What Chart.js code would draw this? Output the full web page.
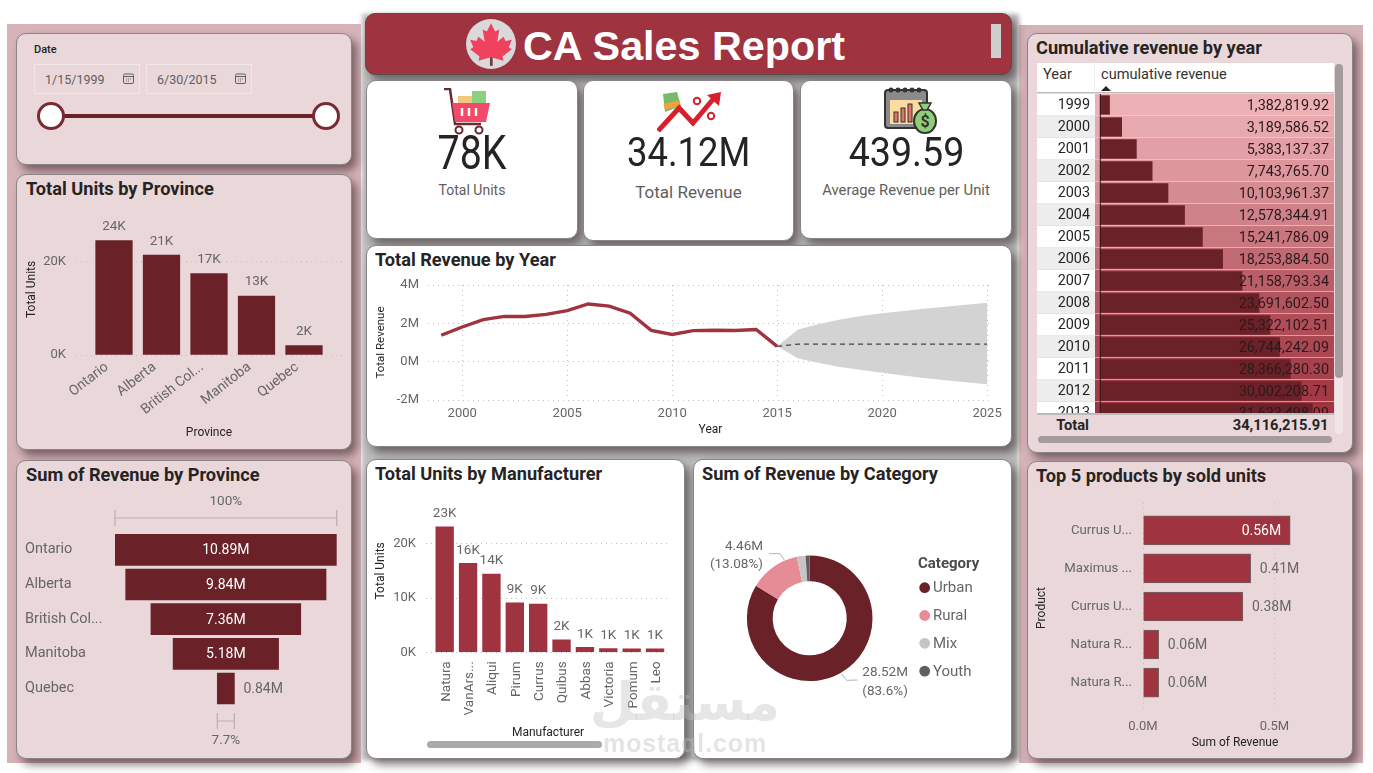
<!DOCTYPE html>
<html>
<head>
<meta charset="utf-8">
<title>CA Sales Report</title>
<script src="https://cdn.jsdelivr.net/npm/chart.js@4"></script>
<style>
  html, body { margin: 0; padding: 0; background: #fff; }
  body { width: 1373px; height: 773px; position: relative; overflow: hidden; font-family: Roboto, sans-serif; color: #252423; }
  .abs, .card, canvas { position: absolute; }
  .back { position: absolute; background: #d6b3b8; }
  .card { box-sizing: border-box; border: 1px solid #8a8486; border-radius: 10px; box-shadow: 5px 6px 8px rgba(30, 15, 18, .5); }
  .pink { background: #ead7da; }
  .white { background: #fff; }
  .ttl { position: absolute; font-weight: 700; font-size: 18.2px; white-space: nowrap; color: #252423; }
  .kpi { position: absolute; left: 0; right: 0; text-align: center; white-space: nowrap; }
  .kpi.num { color: #252423; line-height: 1; }
  .kpi.num span { display: inline-block; }
  .kpi.cap { color: #605e5e; }
  .date { position: absolute; top: 30px; height: 30px; box-sizing: border-box; border: 1px solid #f2e6e8; font-size: 12.5px; color: #605e5e; line-height: 29px; padding-left: 10px; }
  .knob { position: absolute; top: 68px; width: 22px; height: 22px; border-radius: 50%; background: #fff; border: 3px solid #7a2a33; }
  .bar-h { position: absolute; background: #a59b9d; border-radius: 4px; }
</style>
</head>
<body>

<div class="abs" style="left:362px;top:14px;width:657px;height:746px;background:#bcbcbc;filter:blur(2px)"></div>
<div class="back" style="left:7px;top:24px;width:354px;height:739px"></div>
<div class="back" style="left:1019px;top:25px;width:344px;height:738px"></div>

<!-- date slicer -->
<div class="card pink" style="left:16px;top:33px;width:336px;height:132px">
  <div class="abs" style="left:17px;top:9px;font-size:11px;font-weight:500">Date</div>
  <div class="date" style="left:17px;width:106px">1/15/1999
    <svg class="abs" style="left:88px;top:8px" width="11" height="11" viewBox="0 0 11 11"><rect x=".5" y="1" width="10" height="9.5" rx="1.5" fill="none" stroke="#605e5e"/><path d="M1 3.5h9M3 6h1M5 6h1M7 6h1M3 8h1M5 8h1" stroke="#605e5e"/></svg>
  </div>
  <div class="date" style="left:129px;width:106px">6/30/2015
    <svg class="abs" style="left:88px;top:8px" width="11" height="11" viewBox="0 0 11 11"><rect x=".5" y="1" width="10" height="9.5" rx="1.5" fill="none" stroke="#605e5e"/><path d="M1 3.5h9M3 6h1M5 6h1M7 6h1M3 8h1M5 8h1" stroke="#605e5e"/></svg>
  </div>
  <div class="abs" style="left:34px;top:80px;width:275px;height:4px;background:#6a2228"></div>
  <div class="knob" style="left:20px"></div>
  <div class="knob" style="left:295px"></div>
</div>

<div class="card pink" style="left:16px;top:174px;width:336px;height:276px">
  <div class="ttl" style="left:9px;top:3px">Total Units by Province</div>
  <canvas id="provinceUnits" width="335" height="275" style="left:-1px;top:-1px"></canvas>
</div>

<div class="card pink" style="left:16px;top:460px;width:336px;height:299px">
  <div class="ttl" style="left:9px;top:3px">Sum of Revenue by Province</div>
  <canvas id="provinceFunnel" width="335" height="298" style="left:-1px;top:-1px"></canvas>
</div>

<!-- header -->
<div class="card" style="left:365px;top:13px;width:647px;height:62px;background:#9f3340;border-color:#5d4a4d">
  <svg class="abs" style="left:100px;top:5px" width="50" height="50" viewBox="0 0 48 48">
    <circle cx="24" cy="24" r="24" fill="#d9d9d9"/>
    <rect x="23" y="30" width="2.6" height="15" fill="#7a3b3f"/>
    <polygon fill="#f0415f" points="24,4 28,12 32,10 30,22 36,17 38,21 44,20 41,27 44,29 35,36 36,40 25,37 23,37 12,40 13,36 4,29 7,27 4,20 10,21 12,17 18,22 16,10 20,12"/>
  </svg>
  <div class="abs" style="left:157px;top:9px;font:bold 41.3px 'Liberation Sans',sans-serif;color:#fff;white-space:nowrap">CA Sales Report</div>
  <div class="abs" style="left:625px;top:10px;width:10px;height:34px;background:#cfcfcf"></div>
</div>

<!-- KPI cards -->
<div class="card white" style="left:366px;top:80px;width:212px;height:159px">
  <svg class="abs" style="left:76px;top:7px" width="50" height="47" viewBox="0 0 50 47">
    <path d="M1 1h6l5 35h26" fill="none" stroke="#6a2a30" stroke-width="2.5"/>
    <rect x="15" y="8" width="15" height="9" fill="#f4c67e"/><rect x="29" y="3" width="14" height="14" fill="#8ccf7e"/>
    <polygon fill="#f24a68" points="9,15 47,15 43,34 12,34"/>
    <path d="M19 20v8M26 20v8M33 20v8" stroke="#fff" stroke-width="2.5"/>
    <circle cx="16" cy="42" r="3.5" fill="#fff" stroke="#6a2a30" stroke-width="2"/><circle cx="36" cy="42" r="3.5" fill="#fff" stroke="#6a2a30" stroke-width="2"/>
  </svg>
  <div class="kpi num" style="top:48px;font-size:48px"><span style="transform:scaleX(.82)">78K</span></div>
  <div class="kpi cap" style="top:101px;font-size:14px">Total Units</div>
</div>
<div class="card white" style="left:583px;top:80px;width:211px;height:161px">
  <svg class="abs" style="left:73px;top:11px" width="66" height="40" viewBox="0 0 66 40">
    <polygon fill="#79b96a" points="6,2 20,0 24,14 8,20"/><rect x="7" y="10" width="16" height="6" fill="#f2a33c" transform="rotate(-14 15 13)"/>
    <path d="M1 39L22 16l14 15L58 5" fill="none" stroke="#d81f2c" stroke-width="5"/>
    <polygon fill="#d81f2c" points="50,3 64,0 62,14"/>
    <circle cx="40" cy="9" r="3.2" fill="none" stroke="#d81f2c" stroke-width="2"/><circle cx="54" cy="24" r="3.2" fill="none" stroke="#d81f2c" stroke-width="2"/>
  </svg>
  <div class="kpi num" style="top:52px;font-size:40px"><span style="transform:scaleX(.91)">34.12M</span></div>
  <div class="kpi cap" style="top:101px;font-size:17px">Total Revenue</div>
</div>
<div class="card white" style="left:800px;top:80px;width:212px;height:159px">
  <svg class="abs" style="left:82px;top:3px" width="56" height="50" viewBox="0 0 56 50">
    <rect x="2" y="6" width="42" height="38" rx="3" fill="#8a8a8a" stroke="#333" stroke-width="2"/>
    <rect x="7" y="16" width="32" height="24" fill="#fbdca0"/>
    <rect x="11" y="28" width="4" height="10" fill="#e0736c" stroke="#333"/><rect x="18" y="24" width="4" height="14" fill="#e0736c" stroke="#333"/><rect x="25" y="20" width="4" height="18" fill="#e0736c" stroke="#333"/>
    <path d="M8 6h0M15 6h0M22 6h0M29 6h0M36 6h0" stroke="#333" stroke-width="5" stroke-linecap="round"/>
    <ellipse cx="42" cy="37" rx="11" ry="12" fill="#90cf78" stroke="#333" stroke-width="2"/>
    <polygon fill="#90cf78" stroke="#333" stroke-width="1.5" points="36,19 48,19 44,26 40,26"/>
    <text x="42" y="43" text-anchor="middle" font-size="16" font-weight="bold" fill="#333" font-family="Roboto">$</text>
  </svg>
  <div class="kpi num" style="top:52px;font-size:40px"><span style="transform:scaleX(.94)">439.59</span></div>
  <div class="kpi cap" style="top:100px;font-size:14.8px">Average Revenue per Unit</div>
</div>

<div class="card white" style="left:366px;top:245px;width:646px;height:202px">
  <div class="ttl" style="left:8px;top:3px">Total Revenue by Year</div>
  <canvas id="revenueLine" width="645" height="201" style="left:-1px;top:-1px"></canvas>
</div>

<div class="card white" style="left:366px;top:459px;width:319px;height:300px">
  <div class="ttl" style="left:8px;top:3px">Total Units by Manufacturer</div>
  <canvas id="manufacturerUnits" width="318" height="299" style="left:-1px;top:-1px"></canvas>
  <div class="abs" style="left:60px;top:281px;width:175px;height:7px;border-radius:4px;background:#aaa"></div>
</div>

<div class="card white" style="left:693px;top:459px;width:319px;height:300px">
  <div class="ttl" style="left:8px;top:3px">Sum of Revenue by Category</div>
  <canvas id="categoryDonut" width="318" height="299" style="left:-1px;top:-1px"></canvas>
</div>

<!-- cumulative table -->
<div class="card pink" style="left:1027px;top:33px;width:326px;height:420px">
  <div class="ttl" style="left:8px;top:3px">Cumulative revenue by year</div>
  <div class="abs" style="left:9px;top:29px;width:297px;height:30px;background:#fff;border-bottom:1.5px solid #bbb;box-sizing:border-box">
    <div class="abs" style="left:57px;top:0;width:1px;height:28px;background:#eee"></div>
    <div class="abs" style="left:6px;top:2px;font-size:14.6px;color:#333">Year</div>
    <div class="abs" style="left:64px;top:2px;font-size:14.6px;color:#333;white-space:nowrap">cumulative revenue</div>
    <div class="abs" style="left:64px;top:23px;width:0;height:0;border-left:5px solid transparent;border-right:5px solid transparent;border-bottom:5px solid #252423"></div>
  </div>
  <canvas id="cumulativeTable" width="297" height="319" style="left:9px;top:60px"></canvas>
  <div class="abs" style="left:9px;top:379px;width:297px;height:2px;background:#bbb"></div>
  <div class="abs" style="left:9px;top:381px;width:52px;text-align:right;font-weight:700;font-size:14.7px;line-height:21px">Total</div>
  <div id="tableTotal" class="abs" style="left:100px;top:381px;width:200.5px;text-align:right;font-weight:700;font-size:14.7px;line-height:21px"></div>
  <div class="abs" style="left:307px;top:30px;width:8px;height:370px;border-radius:4px;background:#f1e5e7"></div>
  <div class="bar-h" style="left:307px;top:30px;width:8px;height:314px"></div>
  <div class="bar-h" style="left:10px;top:402px;width:294px;height:7px"></div>
</div>

<div class="card pink" style="left:1027px;top:461px;width:326px;height:298px">
  <div class="ttl" style="left:8px;top:3px">Top 5 products by sold units</div>
  <canvas id="topProducts" width="325" height="297" style="left:-1px;top:-1px"></canvas>
</div>

<div class="abs" style="left:590px;top:672px;width:190px;text-align:center;direction:rtl;font:bold 52px 'DejaVu Sans',sans-serif;color:rgba(190,190,190,.38);pointer-events:none">مستقل</div>
<div class="abs" style="left:603px;top:729px;font:bold 25px 'Liberation Sans',sans-serif;letter-spacing:.9px;color:rgba(190,190,190,.42);pointer-events:none">mostaql.com</div>

<script>
const provinces = ['Ontario', 'Alberta', 'British Col...', 'Manitoba', 'Quebec'];
const provinceUnits = [24400, 21300, 17400, 12600, 2000];
const provinceRevenue = [10.89, 9.84, 7.36, 5.18, 0.84];

const revenueYears = [1999, 2000, 2001, 2002, 2003, 2004, 2005, 2006, 2007, 2008, 2009, 2010, 2011, 2012, 2013, 2014, 2015];
const revenueByYear = [1.38, 1.81, 2.19, 2.36, 2.36, 2.47, 2.66, 3.01, 2.90, 2.53, 1.63, 1.42, 1.62, 1.64, 1.63, 1.68, 0.80];
const forecastYears = [2015, 2016, 2017, 2018, 2019, 2020, 2021, 2022, 2023, 2024, 2025];
const forecastValues = [0.80, 0.92, 0.92, 0.92, 0.92, 0.92, 0.92, 0.92, 0.92, 0.92, 0.92];
const forecastUpper = [0.80, 1.68, 1.96, 2.20, 2.38, 2.52, 2.65, 2.76, 2.87, 2.97, 3.07];
const forecastLower = [0.80, 0.17, -0.07, -0.28, -0.44, -0.58, -0.72, -0.85, -0.97, -1.08, -1.18];
const yearTicks = [2000, 2005, 2010, 2015, 2020, 2025];

const manufacturers = ['Natura', 'VanArs...', 'Aliqui', 'Pirum', 'Currus', 'Quibus', 'Abbas', 'Victoria', 'Pomum', 'Leo'];
const manufacturerUnits = [23100, 16400, 14400, 9100, 8900, 2300, 920, 680, 650, 630];

const categories = ['Urban', 'Rural', 'Mix', 'Youth'];
const categoryRevenue = [28.52, 4.46, 0.76, 0.36];
const categoryShare = ['83.6%', '13.08%'];

const tableYears = [1999, 2000, 2001, 2002, 2003, 2004, 2005, 2006, 2007, 2008, 2009, 2010, 2011, 2012, 2013];
const cumulativeRevenue = [1382819.92, 3189586.52, 5383137.37, 7743765.70, 10103961.37, 12578344.91, 15241786.09, 18253884.50,
  21158793.34, 23691602.50, 25322102.51, 26744242.09, 28366280.30, 30002208.71, 31633498.09];
const cumulativeTotal = 34116215.91;

const products = ['Currus U...', 'Maximus ...', 'Currus U...', 'Natura R...', 'Natura R...'];
const productRevenue = [0.56, 0.41, 0.38, 0.06, 0.06];

const maroon = '#6a2228';
const crimson = '#9f3340';
const tickGray = '#666';
const titleDark = '#252423';
const base = { responsive: false, animation: false, events: [], plugins: { legend: { display: false }, tooltip: { enabled: false } } };
const font = (size, weight) => ({ family: 'Roboto', size: size, weight: weight || 'normal' });
const axisTitle = (text, size) => ({ display: true, text: text, color: titleDark, font: font(size || 12), padding: 0 });

Chart.defaults.font.family = 'Roboto';

// forces the plot box, chart.js would otherwise size the axes from the labels
function sized(px) {
    return scale => {
        if (scale.isHorizontal()) scale.height = px; else scale.width = px;
        scale.paddingLeft = scale.paddingRight = scale.paddingTop = scale.paddingBottom = 0;
    };
}
function pad(w, h, box, left, bottom) {
    return { padding: { left: left, top: box.top, right: w - box.right, bottom: bottom } };
}
const dotted = color => ({ color: color, offset: false, drawTicks: false });
const dash = { display: false, dash: [1, 4] };
const kFormat = v => Math.round(v / 1000) + 'K';
const mFormat = v => v.toFixed(2) + 'M';
const fixedTicks = values => scale => { scale.ticks = values.map(v => ({ value: v })); };
const indexes = list => list.map((_, i) => i);

// text next to each bar, taken from the bar elements
function barLabels(id, texts, size, placeFn) {
    return {
        id: id,
        afterDatasetsDraw(chart) {
            const ctx = chart.ctx;
            chart.getDatasetMeta(0).data.forEach((bar, i) => {
                const p = placeFn(bar, i);
                ctx.save();
                ctx.font = size + 'px Roboto';
                ctx.fillStyle = p.color || tickGray;
                ctx.textAlign = p.align || 'center';
                ctx.textBaseline = 'middle';
                ctx.fillText(texts[i], p.x, p.y + 1);
                ctx.restore();
            });
        }
    };
}

// Total Units by Province
(function () {
    const w = 335, h = 275, box = { top: 49.8, right: 326, bottom: 181 };
    new Chart(document.getElementById('provinceUnits'), {
        type: 'bar',
        data: { datasets: [{ data: provinceUnits.map((v, i) => ({ x: i, y: v })), backgroundColor: maroon, barThickness: 36.6 }] },
        options: {
            ...base,
            layout: pad(w, h, box, 8.5, 8.5),
            scales: {
                x: {
                    type: 'linear', offset: false, min: -0.8, max: 4.8,
                    grid: { display: false }, border: { display: false },
                    afterBuildTicks: fixedTicks(indexes(provinces)), afterFit: sized(h - 8.5 - box.bottom),
                    title: axisTitle('Province'),
                    ticks: { callback: v => provinces[v], color: tickGray, font: font(14), padding: -4, labelOffset: -7, minRotation: 38, maxRotation: 38, autoSkip: false }
                },
                y: {
                    min: 0, max: 28000,
                    grid: dotted('#cdbcbf'), border: dash,
                    afterBuildTicks: fixedTicks([0, 20000]), afterFit: sized(60 - 8.5),
                    title: axisTitle('Total Units'),
                    ticks: { callback: kFormat, color: tickGray, font: font(13), padding: 10 }
                }
            }
        },
        plugins: [barLabels('unitLabels', provinceUnits.map(kFormat), 13.5, bar => ({ x: bar.x, y: bar.y - 15 }))]
    });
})();

// Sum of Revenue by Province, drawn as a centred funnel with the two width brackets
(function () {
    const half = provinceRevenue[0] / 2;
    const brackets = {
        id: 'brackets',
        afterDatasetsDraw(chart) {
            const ctx = chart.ctx, x = chart.scales.x;
            const last = provinceRevenue[provinceRevenue.length - 1];
            const draw = (span, y, text, textY) => {
                const a = x.getPixelForValue(-span / 2), b = x.getPixelForValue(span / 2);
                ctx.strokeStyle = '#b9aeb0';
                ctx.lineWidth = 1.2;
                ctx.beginPath();
                ctx.moveTo(a, y); ctx.lineTo(b, y);
                ctx.moveTo(a, y - 8); ctx.lineTo(a, y + 8);
                ctx.moveTo(b, y - 8); ctx.lineTo(b, y + 8);
                ctx.stroke();
                ctx.fillStyle = tickGray;
                ctx.font = '13.5px Roboto';
                ctx.textAlign = 'center';
                ctx.textBaseline = 'middle';
                ctx.fillText(text, (a + b) / 2, textY);
            };
            draw(provinceRevenue[0], 58, '100%', 42);
            draw(last, 261, (last / provinceRevenue[0] * 100).toFixed(1) + '%', 281);
        }
    };
    new Chart(document.getElementById('provinceFunnel'), {
        type: 'bar',
        data: { labels: provinces, datasets: [{ data: provinceRevenue.map(v => [-v / 2, v / 2]), backgroundColor: maroon, barThickness: 31 }] },
        options: {
            ...base,
            indexAxis: 'y',
            layout: { padding: { left: 9, top: 72.5, right: 335 - 320.7, bottom: 298 - 245.8 } },
            scales: {
                x: { display: false, min: -half, max: half },
                y: {
                    grid: { display: false, drawTicks: false }, border: { display: false },
                    afterFit: sized(90),
                    ticks: { color: tickGray, font: font(14.5), crossAlign: 'far', padding: 0, autoSkip: false }
                }
            }
        },
        plugins: [brackets, barLabels('funnelLabels', provinceRevenue.map(mFormat), 14, (bar, i) =>
            provinceRevenue[i] < 1
                ? { x: bar.x + 9, y: bar.y, align: 'left' }
                : { x: (bar.x + bar.base) / 2, y: bar.y, color: '#fff' })]
    });
})();

// Total Revenue by Year with the forecast band
(function () {
    const w = 645, h = 201, box = { top: 40, right: 627, bottom: 155 };
    const points = (xs, ys) => xs.map((x, i) => ({ x: x, y: ys[i] }));
    new Chart(document.getElementById('revenueLine'), {
        type: 'line',
        data: {
            datasets: [
                { data: points(revenueYears, revenueByYear), borderColor: crimson, borderWidth: 3.4, pointRadius: 0, tension: 0 },
                { data: points(forecastYears, forecastValues), borderColor: '#444', borderWidth: 1.3, borderDash: [5, 4], pointRadius: 0 },
                { data: points(forecastYears, forecastUpper), borderWidth: 0, pointRadius: 0, fill: '+1', backgroundColor: '#d3d3d3' },
                { data: points(forecastYears, forecastLower), borderWidth: 0, pointRadius: 0 }
            ]
        },
        options: {
            ...base,
            layout: pad(w, h, box, 8, 9),
            scales: {
                x: {
                    type: 'linear', min: 1998.37, max: 2025.28,
                    grid: dotted('#c0c0c0'), border: dash,
                    afterBuildTicks: fixedTicks(yearTicks), afterFit: sized(h - 9 - box.bottom),
                    title: axisTitle('Year'),
                    ticks: { callback: v => String(v), color: tickGray, font: font(13), padding: 6, maxRotation: 0, autoSkip: false }
                },
                y: {
                    min: -2, max: 4,
                    grid: dotted('#c0c0c0'), border: dash,
                    afterBuildTicks: fixedTicks([-2, 0, 2, 4]), afterFit: sized(62 - 8),
                    title: axisTitle('Total Revenue', 11.5),
                    ticks: { callback: v => v + 'M', color: tickGray, font: font(13), padding: 9 }
                }
            }
        }
    });
})();

// Total Units by Manufacturer
(function () {
    const w = 318, h = 299, box = { top: 30.4, right: 304, bottom: 193.3 };
    new Chart(document.getElementById('manufacturerUnits'), {
        type: 'bar',
        data: { datasets: [{ data: manufacturerUnits.map((v, i) => ({ x: i, y: v })), backgroundColor: crimson, barThickness: 17.7 }] },
        options: {
            ...base,
            layout: pad(w, h, box, 8, 17.5),
            scales: {
                x: {
                    type: 'linear', offset: false, min: -0.8, max: 9.64,
                    grid: { display: false }, border: { display: false },
                    afterBuildTicks: fixedTicks(indexes(manufacturers)), afterFit: sized(h - 17.5 - box.bottom),
                    title: axisTitle('Manufacturer'),
                    ticks: { callback: v => manufacturers[v], color: tickGray, font: font(13.5), padding: 1, labelOffset: 1.5, minRotation: 90, maxRotation: 90, autoSkip: false }
                },
                y: {
                    min: 0, max: 30000,
                    grid: dotted('#c0c0c0'), border: dash,
                    afterBuildTicks: fixedTicks([0, 10000, 20000]), afterFit: sized(60 - 8),
                    title: axisTitle('Total Units'),
                    ticks: { callback: kFormat, color: tickGray, font: font(13), padding: 10 }
                }
            }
        },
        plugins: [barLabels('makerLabels', manufacturerUnits.map(kFormat), 13.5, bar => ({ x: bar.x, y: bar.y - 14 }))]
    });
})();

// Sum of Revenue by Category, leader lines and legend go on the same canvas
(function () {
    const colors = [maroon, '#e58c95', '#c8c4c5', '#605e5e'];
    const notes = {
        id: 'notes',
        afterDatasetsDraw(chart) {
            const ctx = chart.ctx;
            ctx.save();
            ctx.strokeStyle = '#b5b0b1';
            ctx.beginPath();
            ctx.moveTo(76, 94.7); ctx.lineTo(87, 94.7); ctx.lineTo(91.3, 101);
            ctx.moveTo(148.7, 215); ctx.lineTo(153.7, 221.3); ctx.lineTo(164.7, 221);
            ctx.stroke();
            ctx.fillStyle = tickGray;
            ctx.font = '13.5px Roboto';
            ctx.textBaseline = 'middle';
            ctx.textAlign = 'right';
            ctx.fillText(mFormat(categoryRevenue[1]), 70, 87.8);
            ctx.fillText('(' + categoryShare[1] + ')', 70, 105.5);
            ctx.textAlign = 'left';
            ctx.fillText(mFormat(categoryRevenue[0]), 169.3, 213.5);
            ctx.fillText('(' + categoryShare[0] + ')', 169.3, 232.2);
            ctx.fillStyle = '#4a4a4a';
            ctx.font = '700 15px Roboto';
            ctx.fillText('Category', 225, 105.7);
            ctx.font = '15px Roboto';
            categories.forEach((name, i) => {
                const y = 128.7 + i * 27.8;
                ctx.fillStyle = colors[i];
                ctx.beginPath();
                ctx.arc(231.7, y, 5.4, 0, Math.PI * 2);
                ctx.fill();
                ctx.fillStyle = tickGray;
                ctx.fillText(name, 240, y + 1);
            });
            ctx.restore();
        }
    };
    new Chart(document.getElementById('categoryDonut'), {
        type: 'doughnut',
        data: { labels: categories, datasets: [{ data: categoryRevenue, backgroundColor: colors, borderWidth: 0 }] },
        options: {
            ...base,
            cutout: '59%',
            layout: { padding: { left: 53.9, right: 138.5, top: 96.5, bottom: 76.9 } }
        },
        plugins: [notes]
    });
})();

// Cumulative table: data bars on a heat coloured column, years are the y ticks
(function () {
    const low = [236, 176, 181], high = [159, 51, 64];
    const first = cumulativeRevenue[0], top = cumulativeRevenue[cumulativeRevenue.length - 1];
    const heat = v => {
        const t = (v - first) / (top - first);
        return 'rgb(' + low.map((c, i) => Math.round(c + (high[i] - c) * t)).join(',') + ')';
    };
    const money = v => v.toLocaleString('en-US', { minimumFractionDigits: 2, maximumFractionDigits: 2 });
    const rows = {
        id: 'rows',
        beforeDraw(chart) {
            const ctx = chart.ctx, a = chart.chartArea, y = chart.scales.y;
            tableYears.forEach((_, i) => {
                const c = y.getPixelForValue(i);
                ctx.fillStyle = i % 2 ? '#ededed' : '#fff';
                ctx.fillRect(0, c - 11, a.left, 21.4);
                ctx.fillStyle = heat(cumulativeRevenue[i]);
                ctx.fillRect(a.left, c - 11, a.right - a.left, 21.4);
            });
        },
        afterDatasetsDraw(chart) {
            const ctx = chart.ctx, a = chart.chartArea, y = chart.scales.y, x = chart.scales.x;
            ctx.save();
            ctx.strokeStyle = '#30181b';
            ctx.beginPath();
            ctx.moveTo(x.getPixelForValue(0), a.top);
            ctx.lineTo(x.getPixelForValue(0), a.bottom);
            ctx.stroke();
            ctx.font = '14.4px Roboto';
            ctx.fillStyle = '#2a1a1c';
            ctx.textAlign = 'right';
            ctx.textBaseline = 'middle';
            tableYears.forEach((_, i) => ctx.fillText(money(cumulativeRevenue[i]), a.right - 5, y.getPixelForValue(i) + 1));
            ctx.restore();
        }
    };
    document.getElementById('tableTotal').textContent = money(cumulativeTotal);
    new Chart(document.getElementById('cumulativeTable'), {
        type: 'bar',
        data: { datasets: [{ data: cumulativeRevenue.map((v, i) => ({ x: v, y: i })), backgroundColor: maroon, barThickness: 18.7 }] },
        options: {
            ...base,
            indexAxis: 'y',
            scales: {
                x: { display: false, min: -790000, max: 34880000 },
                y: {
                    type: 'linear', offset: false, reverse: true, min: -0.5, max: 14,
                    grid: { display: false, drawTicks: false }, border: { display: false },
                    afterBuildTicks: fixedTicks(indexes(tableYears)), afterFit: sized(58),
                    ticks: { callback: v => tableYears[v], color: titleDark, font: font(14.4), padding: 5, autoSkip: false }
                }
            }
        },
        plugins: [rows]
    });
})();

// Top 5 products
(function () {
    const w = 325, h = 297, box = { top: 42, right: 300, bottom: 252 };
    new Chart(document.getElementById('topProducts'), {
        type: 'bar',
        data: { datasets: [{ data: productRevenue.map((v, i) => ({ x: v, y: i })), backgroundColor: crimson, borderColor: '#6f6466', borderWidth: 1, barThickness: 29 }] },
        options: {
            ...base,
            indexAxis: 'y',
            layout: pad(w, h, box, 8, 8),
            scales: {
                x: {
                    min: 0, max: 0.7,
                    grid: dotted('#cdbcbf'), border: dash,
                    afterBuildTicks: fixedTicks([0, 0.5]), afterFit: sized(h - 8 - box.bottom),
                    title: axisTitle('Sum of Revenue'),
                    ticks: { callback: v => v.toFixed(1) + 'M', color: tickGray, font: font(13), padding: 6, maxRotation: 0 }
                },
                y: {
                    type: 'linear', offset: false, reverse: true, min: -0.72, max: 4.8,
                    grid: { display: false }, border: { display: false },
                    afterBuildTicks: fixedTicks(indexes(products)), afterFit: sized(116 - 8),
                    title: axisTitle('Product'),
                    ticks: { callback: v => products[v], color: tickGray, font: font(13.2), padding: 3, autoSkip: false }
                }
            }
        },
        plugins: [barLabels('productLabels', productRevenue.map(mFormat), 14, (bar, i) =>
            i === 0 ? { x: bar.x - 9, y: bar.y, align: 'right', color: '#fff' } : { x: bar.x + 9, y: bar.y, align: 'left' })]
    });
})();
</script>
</body>
</html>
